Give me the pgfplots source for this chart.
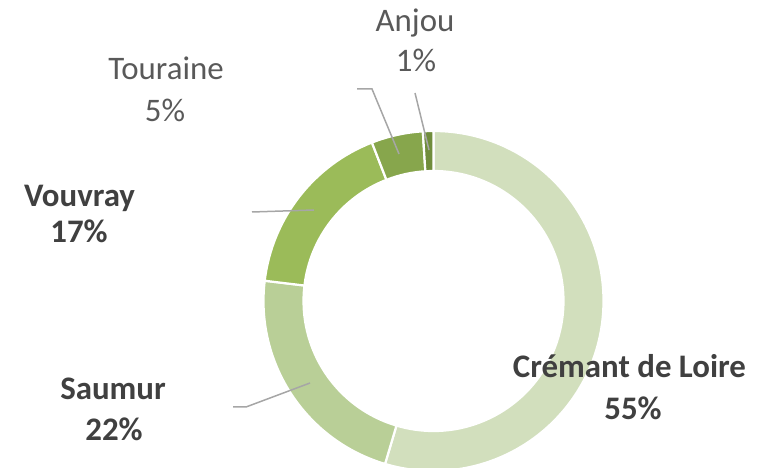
\documentclass[border=0pt]{standalone}
\usepackage{pgfplots}
\pgfplotsset{compat=1.18}
\usepackage{pgfplotstable}
\usepackage{fontspec}
\setmainfont{Carlito}
\definecolor{cCremant}{HTML}{D2DFBD}
\definecolor{cSaumur}{HTML}{B9CF97}
\definecolor{cVouvray}{HTML}{9BBB59}
\definecolor{cTouraine}{HTML}{87A64C}
\definecolor{cAnjou}{HTML}{708D3C}
\definecolor{lineGray}{HTML}{A6A6A6}
\definecolor{labDark}{HTML}{404040}
\definecolor{labGray}{HTML}{595959}
\pgfplotstableread{
name value col
Cremant 54.6 cCremant
Saumur 22.3 cSaumur
Vouvray 17.2 cVouvray
Touraine 4.9 cTouraine
Anjou 1.0 cAnjou
}\wines
\begin{document}
\begin{tikzpicture}
\begin{axis}[scale only axis, width=773bp, height=468bp,
  xmin=0, xmax=773, ymin=0, ymax=468, hide axis, clip=false]
\def\cum{0}
\pgfplotsforeachungrouped \i in {0,...,4}{%
  \pgfplotstablegetelem{\i}{value}\of\wines \let\wval\pgfplotsretval
  \pgfplotstablegetelem{\i}{col}\of\wines \let\wcol\pgfplotsretval
  \pgfmathsetmacro\ta{90-3.6*\cum}%
  \pgfmathsetmacro\cum{\cum+\wval}%
  \pgfmathsetmacro\tb{90-3.6*\cum}%
  \edef\cmd{\noexpand\fill[\wcol, draw=white, line width=2.2bp] (axis cs:433.5,167) ++(\ta:170bp) arc[start angle=\ta, end angle=\tb, radius=170bp] -- ([shift={(\tb:130bp)}]axis cs:433.5,167) arc[start angle=\tb, end angle=\ta, radius=130bp] -- cycle;}%
  \cmd
}
% leader lines
\addplot[color=lineGray, line width=1.5bp, mark=none] coordinates {(415,375) (429,318)};
\addplot[color=lineGray, line width=1.5bp, mark=none] coordinates {(357,379) (372,379) (399,314)};
\addplot[color=lineGray, line width=1.5bp, mark=none] coordinates {(252,256) (314,258)};
\addplot[color=lineGray, line width=1.5bp, mark=none] coordinates {(233,61) (246,61) (310,85)};
% labels
\node[anchor=base, text=labDark, font=\fontsize{33}{40}\selectfont\bfseries] at (axis cs:629.5,90) {Crémant de Loire};
\node[anchor=base, text=labDark, font=\fontsize{33}{40}\selectfont\bfseries] at (axis cs:633,48) {55\%};
\node[anchor=base, text=labDark, font=\fontsize{33}{40}\selectfont\bfseries] at (axis cs:113,68) {Saumur};
\node[anchor=base, text=labDark, font=\fontsize{33}{40}\selectfont\bfseries] at (axis cs:114,28) {22\%};
\node[anchor=base, text=labDark, font=\fontsize{33}{40}\selectfont\bfseries] at (axis cs:79.5,261) {Vouvray};
\node[anchor=base, text=labDark, font=\fontsize{33}{40}\selectfont\bfseries] at (axis cs:79,225) {17\%};
\node[anchor=base, text=labGray, font=\fontsize{33}{40}\selectfont] at (axis cs:166,388) {Touraine};
\node[anchor=base, text=labGray, font=\fontsize{33}{40}\selectfont] at (axis cs:165,346) {5\%};
\node[anchor=base, text=labGray, font=\fontsize{33}{40}\selectfont] at (axis cs:415,436) {Anjou};
\node[anchor=base, text=labGray, font=\fontsize{33}{40}\selectfont] at (axis cs:416,396) {1\%};
\end{axis}
\pgfresetboundingbox
\useasboundingbox (current axis.south west) rectangle (current axis.north east);
\end{tikzpicture}
\end{document}
